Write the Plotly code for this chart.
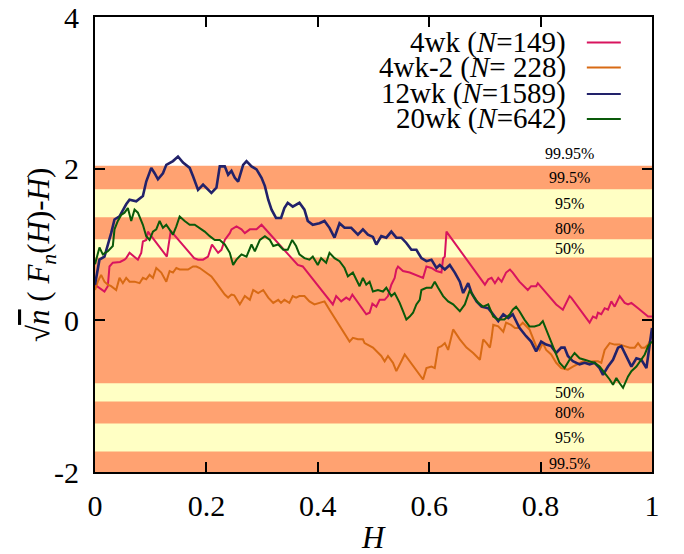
import plotly.graph_objects as go

# Kolmogorov-Smirnov confidence levels and their critical values of sqrt(n)*sup|F_n - F|
levels = ["50%", "80%", "95%", "99.5%", "99.95%"]
critical = [0.83, 1.07, 1.36, 1.73, 2.04]

# Empirical process sqrt(n)(F_n(H) - H), as (H, value) points
wk4 = [(0.0, 0.47), (0.008, 0.43), (0.017, 0.38), (0.023, 0.45), (0.026, 0.71), (0.032, 0.76),
       (0.045, 0.77), (0.053, 0.80), (0.056, 0.82), (0.062, 0.89), (0.071, 0.84), (0.077, 0.80),
       (0.083, 0.89), (0.086, 1.04), (0.092, 1.06), (0.095, 1.17), (0.129, 0.84), (0.136, 1.18),
       (0.178, 0.82), (0.185, 0.80), (0.194, 0.80), (0.203, 0.84), (0.210, 1.00), (0.221, 0.89),
       (0.227, 0.93), (0.233, 1.06), (0.242, 1.15), (0.245, 1.20), (0.254, 1.24), (0.263, 1.20),
       (0.269, 1.15), (0.278, 1.20), (0.290, 1.20), (0.299, 1.26), (0.364, 0.73), (0.373, 0.71),
       (0.427, 0.21), (0.433, 0.32), (0.442, 0.25), (0.451, 0.30), (0.457, 0.27), (0.462, 0.34),
       (0.487, 0.08), (0.493, 0.10), (0.498, 0.22), (0.505, 0.18), (0.511, 0.27), (0.520, 0.27),
       (0.526, 0.32), (0.532, 0.47), (0.538, 0.56), (0.541, 0.67), (0.544, 0.71), (0.553, 0.65),
       (0.565, 0.63), (0.577, 0.60), (0.589, 0.56), (0.595, 0.71), (0.604, 0.69), (0.613, 0.65),
       (0.622, 0.63), (0.625, 0.82), (0.628, 0.84), (0.631, 1.17), (0.700, 0.47), (0.706, 0.54),
       (0.712, 0.56), (0.718, 0.49), (0.724, 0.56), (0.730, 0.51), (0.738, 0.63), (0.745, 0.67),
       (0.750, 0.63), (0.762, 0.51), (0.777, 0.40), (0.783, 0.45), (0.792, 0.45), (0.795, 0.49),
       (0.828, 0.21), (0.840, 0.14), (0.852, 0.32), (0.855, 0.30), (0.888, -0.03), (0.894, 0.05),
       (0.900, 0.03), (0.903, 0.10), (0.909, 0.08), (0.915, 0.16), (0.921, 0.14), (0.927, 0.25),
       (0.933, 0.18), (0.942, 0.32), (0.951, 0.23), (0.957, 0.21), (0.963, 0.23), (0.975, 0.16),
       (0.987, 0.08), (0.993, 0.05), (1.0, 0.05)]

wk4_2 = [(0.0, 0.40), (0.005, 0.51), (0.011, 0.60), (0.017, 0.51), (0.023, 0.47), (0.029, 0.45),
         (0.038, 0.40), (0.044, 0.56), (0.050, 0.49), (0.056, 0.56), (0.062, 0.51), (0.071, 0.51),
         (0.080, 0.49), (0.086, 0.56), (0.092, 0.54), (0.098, 0.60), (0.104, 0.56), (0.110, 0.69),
         (0.119, 0.63), (0.128, 0.51), (0.134, 0.65), (0.140, 0.63), (0.146, 0.69), (0.152, 0.67),
         (0.158, 0.67), (0.167, 0.67), (0.176, 0.71), (0.182, 0.71), (0.188, 0.69), (0.200, 0.63),
         (0.209, 0.58), (0.218, 0.49), (0.227, 0.40), (0.233, 0.34), (0.239, 0.30), (0.245, 0.34),
         (0.250, 0.33), (0.260, 0.21), (0.269, 0.32), (0.278, 0.27), (0.284, 0.40), (0.293, 0.36),
         (0.302, 0.40), (0.311, 0.30), (0.320, 0.23), (0.329, 0.27), (0.334, 0.23), (0.340, 0.27),
         (0.349, 0.23), (0.355, 0.32), (0.361, 0.30), (0.367, 0.32), (0.376, 0.32), (0.385, 0.25),
         (0.394, 0.21), (0.403, 0.23), (0.412, 0.25), (0.421, 0.14), (0.457, -0.28), (0.463, -0.23),
         (0.472, -0.25), (0.481, -0.25), (0.484, -0.30), (0.499, -0.36), (0.505, -0.41), (0.514, -0.47),
         (0.520, -0.54), (0.526, -0.47), (0.535, -0.56), (0.541, -0.67), (0.550, -0.54), (0.556, -0.45),
         (0.589, -0.78), (0.595, -0.63), (0.604, -0.61), (0.610, -0.63), (0.616, -0.36), (0.622, -0.34),
         (0.628, -0.30), (0.634, -0.39), (0.643, -0.12), (0.655, -0.25), (0.667, -0.36), (0.679, -0.43),
         (0.691, -0.52), (0.697, -0.25), (0.703, -0.30), (0.709, -0.36), (0.712, -0.23), (0.715, -0.06),
         (0.724, -0.08), (0.733, -0.15), (0.738, -0.03), (0.747, -0.06), (0.754, -0.10), (0.759, -0.10),
         (0.768, -0.03), (0.780, -0.12), (0.792, -0.34), (0.798, -0.39), (0.804, -0.30), (0.810, -0.39),
         (0.819, -0.45), (0.828, -0.56), (0.837, -0.63), (0.849, -0.65), (0.858, -0.61), (0.867, -0.58),
         (0.876, -0.54), (0.885, -0.56), (0.894, -0.54), (0.903, -0.54), (0.909, -0.56), (0.915, -0.39),
         (0.924, -0.30), (0.933, -0.32), (0.942, -0.32), (0.951, -0.34), (0.960, -0.36), (0.969, -0.36),
         (0.975, -0.30), (0.981, -0.36), (0.987, -0.36), (0.993, -0.32), (1.0, -0.21)]

wk12 = [(0.0, 0.47), (0.008, 0.80), (0.017, 0.84), (0.023, 0.98), (0.029, 1.15), (0.035, 1.33),
        (0.044, 1.37), (0.056, 1.53), (0.062, 1.59), (0.074, 1.57), (0.086, 1.64), (0.092, 1.83),
        (0.101, 2.01), (0.107, 1.94), (0.113, 1.86), (0.122, 1.94), (0.128, 2.05), (0.140, 2.10),
        (0.149, 2.16), (0.158, 2.08), (0.170, 2.01), (0.176, 1.90), (0.185, 1.72), (0.194, 1.79),
        (0.203, 1.72), (0.209, 1.68), (0.218, 1.75), (0.224, 2.03), (0.233, 2.03), (0.239, 1.92),
        (0.245, 1.97), (0.251, 1.88), (0.257, 1.83), (0.266, 2.05), (0.272, 2.10), (0.281, 2.03),
        (0.290, 1.99), (0.299, 1.88), (0.305, 1.77), (0.311, 1.59), (0.317, 1.46), (0.325, 1.35),
        (0.334, 1.35), (0.340, 1.48), (0.346, 1.55), (0.355, 1.50), (0.367, 1.55), (0.376, 1.46),
        (0.382, 1.31), (0.391, 1.26), (0.403, 1.28), (0.412, 1.31), (0.421, 1.22), (0.430, 1.09),
        (0.439, 1.28), (0.448, 1.22), (0.460, 1.22), (0.472, 1.13), (0.481, 1.20), (0.490, 1.13),
        (0.499, 1.10), (0.505, 1.00), (0.514, 1.11), (0.523, 1.09), (0.532, 1.17), (0.541, 1.09),
        (0.550, 1.09), (0.559, 1.02), (0.568, 0.93), (0.577, 0.93), (0.586, 0.82), (0.595, 0.78),
        (0.604, 0.80), (0.613, 0.69), (0.619, 0.73), (0.628, 0.67), (0.637, 0.73), (0.646, 0.63),
        (0.655, 0.51), (0.661, 0.36), (0.670, 0.49), (0.676, 0.36), (0.685, 0.25), (0.694, 0.18),
        (0.706, 0.16), (0.715, 0.08), (0.724, -0.01), (0.733, 0.08), (0.742, 0.03), (0.750, 0.08),
        (0.762, -0.10), (0.774, -0.21), (0.783, -0.28), (0.792, -0.41), (0.801, -0.28), (0.810, -0.32),
        (0.819, -0.34), (0.828, -0.43), (0.837, -0.36), (0.843, -0.36), (0.849, -0.47), (0.858, -0.54),
        (0.870, -0.58), (0.879, -0.56), (0.888, -0.58), (0.897, -0.56), (0.906, -0.63), (0.912, -0.72),
        (0.921, -0.61), (0.930, -0.52), (0.939, -0.36), (0.945, -0.34), (0.954, -0.47), (0.963, -0.61),
        (0.972, -0.50), (0.981, -0.52), (0.990, -0.63), (0.996, -0.34), (1.0, -0.10)]

wk20 = [(0.0, 0.74), (0.008, 0.96), (0.014, 0.87), (0.023, 0.91), (0.032, 0.98), (0.035, 1.20),
        (0.041, 1.31), (0.047, 1.39), (0.053, 1.42), (0.059, 1.48), (0.065, 1.31), (0.071, 1.46),
        (0.077, 1.42), (0.086, 1.26), (0.092, 1.11), (0.098, 1.06), (0.104, 1.17), (0.110, 1.20),
        (0.116, 1.31), (0.122, 1.22), (0.128, 1.26), (0.134, 1.20), (0.140, 1.13), (0.146, 1.24),
        (0.152, 1.37), (0.161, 1.31), (0.170, 1.26), (0.179, 1.26), (0.188, 1.22), (0.197, 1.17),
        (0.206, 1.11), (0.215, 1.06), (0.224, 1.06), (0.233, 1.00), (0.242, 0.89), (0.248, 0.73),
        (0.254, 0.80), (0.263, 0.87), (0.272, 0.84), (0.281, 1.00), (0.287, 0.91), (0.296, 1.06),
        (0.305, 1.11), (0.314, 1.06), (0.320, 0.98), (0.329, 1.00), (0.338, 0.93), (0.346, 0.93),
        (0.354, 1.06), (0.361, 0.98), (0.367, 0.87), (0.376, 0.82), (0.385, 0.80), (0.391, 0.84),
        (0.400, 0.73), (0.406, 0.82), (0.415, 0.76), (0.421, 0.89), (0.430, 0.82), (0.439, 0.78),
        (0.448, 0.69), (0.454, 0.58), (0.463, 0.63), (0.469, 0.54), (0.475, 0.45), (0.481, 0.56),
        (0.487, 0.47), (0.493, 0.51), (0.499, 0.38), (0.508, 0.40), (0.517, 0.38), (0.523, 0.43),
        (0.532, 0.32), (0.538, 0.36), (0.547, 0.23), (0.553, 0.12), (0.559, 0.01), (0.565, 0.05),
        (0.571, 0.10), (0.577, 0.21), (0.583, 0.27), (0.586, 0.40), (0.595, 0.43), (0.604, 0.43),
        (0.610, 0.51), (0.616, 0.43), (0.625, 0.32), (0.634, 0.25), (0.643, 0.21), (0.655, 0.12),
        (0.664, 0.21), (0.673, 0.40), (0.679, 0.32), (0.688, 0.23), (0.697, 0.18), (0.706, 0.21),
        (0.715, 0.05), (0.724, 0.01), (0.735, 0.01), (0.745, 0.08), (0.750, 0.14), (0.756, 0.18),
        (0.762, 0.12), (0.771, 0.01), (0.780, -0.08), (0.789, -0.08), (0.798, -0.06), (0.804, -0.01),
        (0.810, -0.12), (0.816, -0.23), (0.825, -0.41), (0.834, -0.56), (0.843, -0.63), (0.852, -0.52),
        (0.861, -0.43), (0.870, -0.50), (0.879, -0.52), (0.888, -0.54), (0.897, -0.56), (0.906, -0.61),
        (0.915, -0.69), (0.924, -0.78), (0.930, -0.85), (0.936, -0.76), (0.942, -0.83), (0.948, -0.89),
        (0.957, -0.74), (0.963, -0.67), (0.972, -0.61), (0.981, -0.52), (0.987, -0.45), (0.993, -0.34),
        (1.0, -0.28)]

series_names = ["4wk (<i>N</i>=149)", "4wk-2 (<i>N</i>= 228)", "12wk (<i>N</i>=1589)", "20wk (<i>N</i>=642)"]
series_data = [wk4, wk4_2, wk12, wk20]
series_colors = ["#D8145E", "#D86A14", "#22226A", "#0A5A0A"]
series_widths = [2, 2, 2.6, 2]

ORANGE = "#FFA271"
YELLOW = "#FFFFC4"
FONT = "Liberation Serif"

fig = go.Figure()

# Confidence bands: orange up to the outermost level, yellow strips between alternate levels
shapes = [dict(type="rect", xref="x", yref="y", x0=0, x1=1, y0=-critical[-1], y1=critical[-1],
               fillcolor=ORANGE, line_width=0, layer="below")]
for lo, hi in [(0, 1), (2, 3)]:
    for sgn in (1, -1):
        shapes.append(dict(type="rect", xref="x", yref="y", x0=0, x1=1,
                           y0=sgn * critical[lo], y1=sgn * critical[hi],
                           fillcolor=YELLOW, line_width=0, layer="below"))

annotations = []
# Level labels centred in each band
band_edges = critical + [critical[-1] + 0.32]
for i, lab in enumerate(levels):
    mid = 0.5 * (band_edges[i] + band_edges[i + 1])
    annotations.append(dict(x=0.851, y=mid, xref="x", yref="y", text=lab, showarrow=False,
                            font=dict(family=FONT, size=16, color="black")))
    if i < 4:
        annotations.append(dict(x=0.851, y=-mid if i < 3 else -1.885, xref="x", yref="y", text=lab,
                                showarrow=False, font=dict(family=FONT, size=16, color="black")))

for name, pts, col, w in zip(series_names, series_data, series_colors, series_widths):
    fig.add_trace(go.Scatter(x=[p[0] for p in pts], y=[p[1] for p in pts], mode="lines",
                             line=dict(color=col, width=w), showlegend=False, name=name))

# Key: right-aligned labels with a short line sample to their right
key_y = [0.944, 0.889, 0.831, 0.776]
for name, col, ky in zip(series_names, series_colors, key_y):
    annotations.append(dict(x=0.849, y=ky, xref="paper", yref="paper", text=name, showarrow=False,
                            xanchor="right", yanchor="middle",
                            font=dict(family=FONT, size=29, color="black")))
    shapes.append(dict(type="line", xref="paper", yref="paper", x0=0.883, x1=0.944, y0=ky, y1=ky,
                       line=dict(color=col, width=2)))

# Axis titles
annotations.append(dict(x=-0.097, y=0.477, xref="paper", yref="paper", textangle=-90,
                        xanchor="center", yanchor="middle",
                        text="√<span style='text-decoration:overline'><i>n</i></span> ( <i>F<sub>n</sub></i>(<i>H</i>)-<i>H</i>)",
                        showarrow=False, font=dict(family=FONT, size=31, color="black")))
annotations.append(dict(x=0.5, y=-0.143, xref="paper", yref="paper", text="<i>H</i>",
                        showarrow=False, xanchor="center", yanchor="middle",
                        font=dict(family=FONT, size=31, color="black")))

axis_common = dict(showline=True, linecolor="black", linewidth=2, mirror="ticks", ticks="inside",
                   ticklen=10, tickwidth=2, tickcolor="black", showgrid=False, zeroline=False,
                   automargin=False, tickfont=dict(family=FONT, size=30, color="black"))

fig.update_layout(
    width=684, height=554,
    margin=dict(l=95, r=32, t=17, b=82, autoexpand=False),
    paper_bgcolor="white", plot_bgcolor="white",
    shapes=shapes, annotations=annotations,
    xaxis=dict(range=[0, 1], tickvals=[0, 0.2, 0.4, 0.6, 0.8, 1], ticktext=["0", "0.2", "0.4", "0.6", "0.8", "1"],
               ticklabelstandoff=6, **axis_common),
    yaxis=dict(range=[-2, 4], tickvals=[-2, 0, 2, 4], ticktext=["-2", "0", "2", "4"],
               ticklabelstandoff=8, **axis_common),
)

fig.write_html("out.html")
